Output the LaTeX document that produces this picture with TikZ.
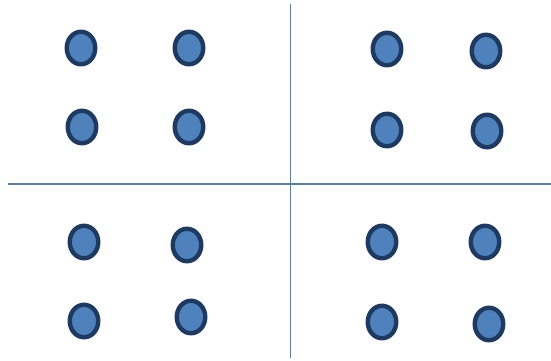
\documentclass[tikz,border=0pt]{standalone}
\usetikzlibrary{shapes.geometric}
\definecolor{dotfill}{HTML}{4F81BD}
\definecolor{dotline}{HTML}{1F3A60}
\definecolor{axis}{HTML}{5F7E9A}
\tikzset{
  dot/.style={ellipse, draw=dotline, fill=dotfill, line width=4.4pt, minimum width=28.5pt, minimum height=32.5pt, inner sep=0pt},
  axisline/.style={draw=axis, line width=1.3pt}
}
\begin{document}
\begin{tikzpicture}[x=1pt,y=-1pt]
\useasboundingbox (0,0) rectangle (551,361);
% axes
\coordinate (vt) at (290.5,4);
\coordinate (vb) at (290.5,358);
\coordinate (hl) at (8,184);
\coordinate (hr) at (551,184);
\draw[axisline] (vt) -- (vb);
\draw[axisline] (hl) -- (hr);
% top-left
\node[dot] (tl1) at (81,48) {};
\node[dot] (tl2) at (189,48) {};
\node[dot] (tl3) at (82,127) {};
\node[dot] (tl4) at (189,127) {};
% top-right
\node[dot] (tr1) at (387,49) {};
\node[dot] (tr2) at (486,51) {};
\node[dot] (tr3) at (387,130) {};
\node[dot] (tr4) at (487,131) {};
% bottom-left
\node[dot] (bl1) at (84,242) {};
\node[dot] (bl2) at (187,245) {};
\node[dot] (bl3) at (84,321) {};
\node[dot] (bl4) at (191,317) {};
% bottom-right
\node[dot] (br1) at (382,242) {};
\node[dot] (br2) at (485,242) {};
\node[dot] (br3) at (382,322) {};
\node[dot] (br4) at (489,324) {};
\end{tikzpicture}
\end{document}
